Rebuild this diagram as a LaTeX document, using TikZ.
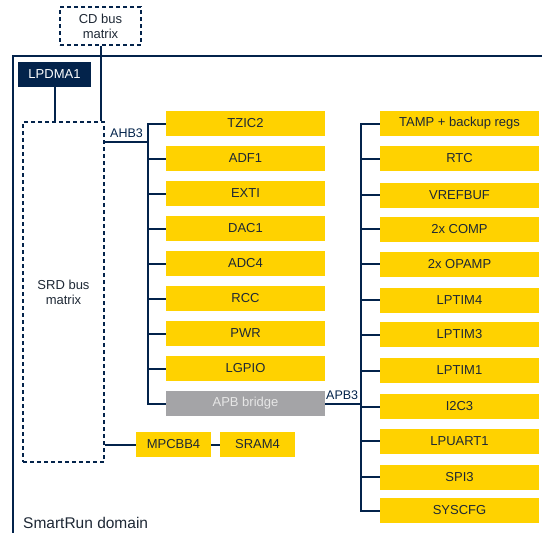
\documentclass[tikz,border=0pt]{standalone}
\usepackage{fontspec}
\setmainfont{Liberation Sans}
\definecolor{stnavy}{HTML}{03234B}
\definecolor{styellow}{HTML}{FFD200}
\definecolor{stgray}{HTML}{A4A4A7}
\definecolor{sttext}{HTML}{1E2835}
\definecolor{bridgetext}{HTML}{E6E6E6}
\tikzset{
  lbl/.style={font=\fontsize{13}{15}\selectfont, text=sttext},
  ybox/.style={lbl, fill=styellow, inner sep=0pt, minimum height=25pt},
  lcol/.style={ybox, minimum width=159pt},
  dbox/.style={lbl, draw=stnavy, line width=1.2pt, dash pattern=on 4pt off 3pt, inner sep=0pt, align=center, text=sttext},
  bus/.style={draw=stnavy, line width=2pt},
  buslabel/.style={font=\fontsize{12.5}{15}\selectfont, text=stnavy, inner sep=0pt},
}
\begin{document}
\begin{tikzpicture}[x=1pt,y=-1pt]
\useasboundingbox (0,0) rectangle (542,533);
% domain frame
\draw[stnavy, line width=1.5pt] (542,56) -- (13,56) -- (13,533);
\node[lbl, anchor=west, font=\fontsize{15.5}{18}\selectfont, inner sep=0pt] (dom) at (23,523) {SmartRun domain};
% bus matrices
\node[dbox, minimum width=81pt, minimum height=38pt] (cd) at (100.5,26) {CD bus\\matrix};
\node[dbox, minimum width=81pt, minimum height=340pt] (srd) at (63.5,292) {SRD bus\\matrix};
\node[lbl, fill=stnavy, text=white, inner sep=0pt, minimum width=73pt, minimum height=25pt] (lpdma) at (54.5,74.5) {LPDMA1};
\draw[bus] (lpdma.south) -- (lpdma.south |- srd.north);
\draw[bus] (cd.south) -- (cd.south |- srd.north);
% left column
\foreach \n/\t/\y in {tzic/TZIC2/123.5, adf/ADF1/158.5, exti/EXTI/193.5, dac/DAC1/228.5, adc/ADC4/263.5, rcc/RCC/298.5, pwr/PWR/333.5, lgpio/LGPIO/368.5}{
  \node[lcol] (\n) at (245.5,\y) {\t};
}
\node[lcol, fill=stgray, text=bridgetext] (apb) at (245.5,403.5) {APB bridge};
% right column
\foreach \n/\t/\y in {tamp/TAMP + backup regs/123.5, rtc/RTC/158.5, vref/VREFBUF/195, comp/2x COMP/229, opamp/2x OPAMP/264, lptimf/LPTIM4/300, lptimt/LPTIM3/334.5, lptimo/LPTIM1/370.5, ic/I2C3/406.5, lpuart/LPUART1/441, spi/SPI3/477, syscfg/SYSCFG/510.5}{
  \node[lcol] (\n) at (459.5,\y) {\t};
}
% AHB3 bus
\coordinate (ahbj) at (148,142);
\coordinate (ahbtop) at (148,123.5);
\coordinate (ahbbot) at (148,403.5);
\draw[bus] (srd.east |- ahbj) -- (ahbj);
\draw[bus] (tzic.west) -- (ahbtop) -- (ahbbot) -- (apb.west);
\foreach \n in {adf,exti,dac,adc,rcc,pwr,lgpio}{
  \draw[bus] (ahbtop |- \n.west) -- (\n.west);
}
\node[buslabel, anchor=south west] (ahbl) at (110,138) {AHB3};
% APB3 bus
\coordinate (apbj) at (361,403.5);
\coordinate (apbtop) at (361,123.5);
\coordinate (apbbot) at (361,510.5);
\draw[bus] (apb.east) -- (apbj);
\draw[bus] (tamp.west) -- (apbtop) -- (apbbot) -- (syscfg.west);
\foreach \n in {rtc,vref,comp,opamp,lptimf,lptimt,lptimo,ic,lpuart,spi}{
  \draw[bus] (apbtop |- \n.west) -- (\n.west);
}
\node[buslabel, anchor=south west] (apbl) at (326,400) {APB3};
% MPCBB4 / SRAM4
\node[ybox, minimum width=75pt] (mpcbb) at (173.5,444.5) {MPCBB4};
\node[ybox, minimum width=75pt] (sram) at (257.5,444.5) {SRAM4};
\draw[bus] (srd.east |- mpcbb.west) -- (mpcbb.west);
\draw[bus] (mpcbb.east) -- (sram.west);
\end{tikzpicture}
\end{document}
